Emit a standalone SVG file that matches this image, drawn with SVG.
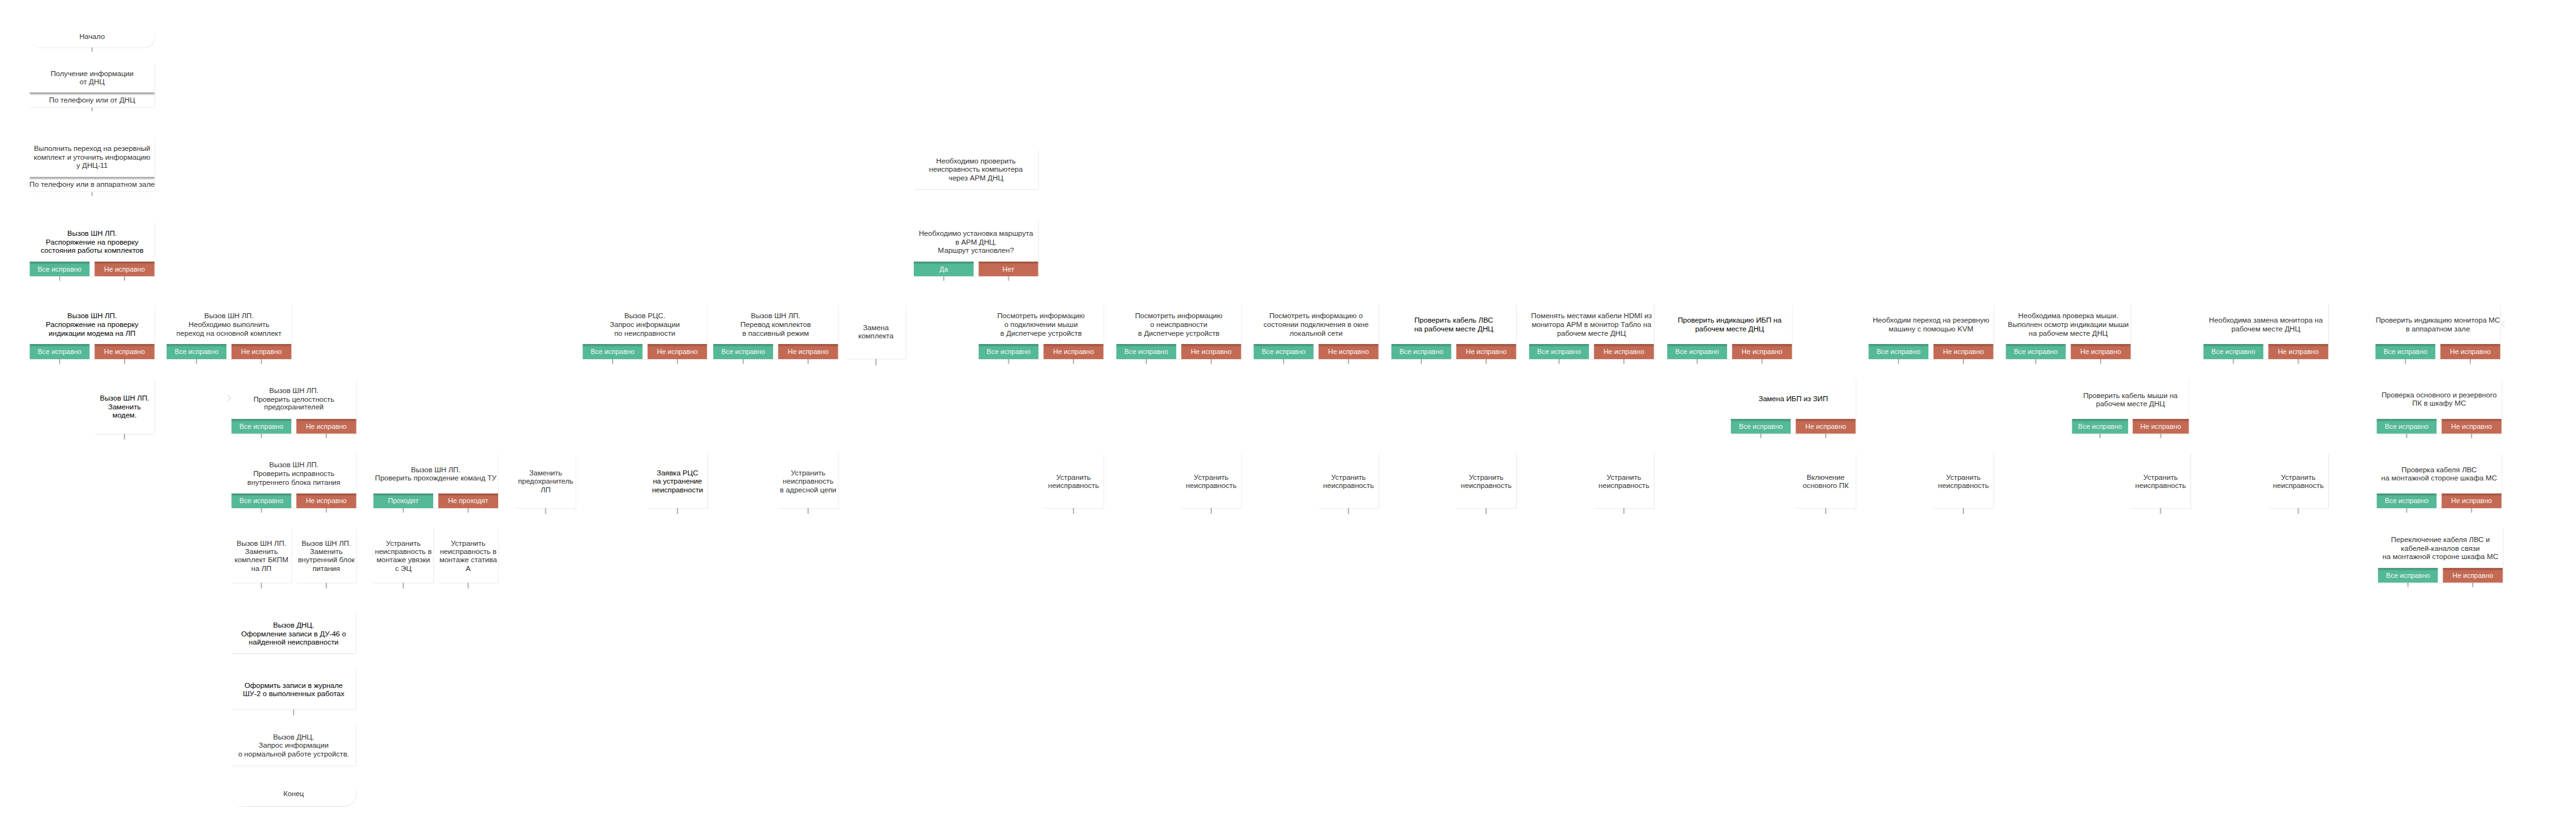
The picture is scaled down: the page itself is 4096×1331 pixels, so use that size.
<svg xmlns="http://www.w3.org/2000/svg" width="4096" height="1331" viewBox="0 0 4096 1331">
<defs>
<style>
.card{fill:#fff;filter:url(#sh)}
.t{font-family:"Liberation Sans",Arial,sans-serif;font-size:17.5px;fill:#333;text-anchor:middle;dominant-baseline:central}
.d{fill:#000}
.bt{font-family:"Liberation Sans",Arial,sans-serif;font-size:16.5px;fill:#f6f6f6;text-anchor:middle;dominant-baseline:central}
.ok{fill:url(#gOk)}
.bad{fill:url(#gBad)}
.bar{fill:url(#gBar)}
.stub{stroke:#b3b3b3;stroke-width:3;fill:none}
.arr{stroke:#e2e2e2;stroke-width:2;fill:none}
</style>
<filter id="sh" x="-5%" y="-5%" width="112%" height="115%">
<feDropShadow dx="1" dy="1.2" stdDeviation="0.8" flood-color="#000" flood-opacity="0.14"/>
</filter>
<linearGradient id="gOk" x1="0" y1="0" x2="0" y2="1">
<stop offset="0" stop-color="#3d8a6e"/><stop offset="0.2" stop-color="#54b996"/><stop offset="1" stop-color="#54b996"/>
</linearGradient>
<linearGradient id="gBad" x1="0" y1="0" x2="0" y2="1">
<stop offset="0" stop-color="#944d3c"/><stop offset="0.2" stop-color="#c46a54"/><stop offset="1" stop-color="#c46a54"/>
</linearGradient>
<linearGradient id="gBar" x1="0" y1="0" x2="0" y2="1">
<stop offset="0" stop-color="#8c8c8c"/><stop offset="1" stop-color="#ffffff"/>
</linearGradient>
</defs>
<rect width="4096" height="1331" fill="#fff"/>
<g transform="scale(0.66558)">

<g id="connectors">
<path class="stub" d="M220 113v11M220 257v9M220 459v9M142.5 660v11M297.5 660v11M142.5 858v11M297.5 858v11M469.5 858v11M624.5 858v11M297.5 1036v14M624.5 1036v11M779.5 1036v11M624.5 1214v11M779.5 1214v11M963.5 1214v11M1118.5 1214v11M624.5 1392v14M779.5 1392v14M963.5 1392v14M1118.5 1392v14M701.5 1695v14M1303.5 1214v14M1618.5 1214v14M1930.5 1214v14M1463.5 858v11M1618.5 858v11M1775.5 858v11M1930.5 858v11M2092.5 857v16M2254.5 660v11M2409.5 660v11M2409.5 858v11M2564.5 858v11M2738.5 858v11M2893.5 858v11M3066.5 858v11M3221.5 858v11M3395.5 858v11M3550.5 858v11M3724.5 858v11M3879.5 858v11M4054.5 858v11M4209.5 858v11M4535.5 858v11M4690.5 858v11M4863.5 858v11M5018.5 858v11M5335.5 858v11M5490.5 858v11M5746.5 858v11M5901.5 858v11M4206.5 1036v11M4361.5 1036v11M5017 1036v11M5162 1036v11M5749.5 1036v11M5904.5 1036v11M5749.5 1214v11M5904.5 1214v11M5752.5 1392v11M5907.5 1392v11M2564.5 1214v14M2893.5 1214v14M3221.5 1214v14M3550.5 1214v14M3879.5 1214v14M4361.5 1214v14M4690.5 1214v14M5161.5 1214v14M5490.5 1214v14"/>
<path class="arr" d="M543 944l8 7-8 7M5984 768l-8 7 8 7"/>
</g>

<g id="start"><rect class="card" x="71" y="62" width="298" height="51" rx="25"/><text class="t" x="220" y="87">Начало</text></g>

<g id="n_info"><rect class="card" x="71" y="149" width="298" height="107"/><text class="t" x="220" y="175">Получение информации</text><text class="t" x="220" y="195">от ДНЦ</text><rect class="bar" x="71" y="221" width="298" height="7"/><text class="t" x="220" y="238">По телефону или от ДНЦ</text></g>

<g id="n_switch"><rect class="card" x="71" y="328" width="298" height="129"/><text class="t" x="220" y="354">Выполнить переход на резервный</text><text class="t" x="220" y="375">комплект и уточнить информацию</text><text class="t" x="220" y="395">у ДНЦ-11</text><rect class="bar" x="71" y="423" width="298" height="7"/><text class="t" x="220" y="440">По телефону или в аппаратном зале</text></g>

<g id="n_check_sets"><rect class="card" x="71" y="530" width="298" height="130"/><text class="t d" x="220" y="557">Вызов ШН ЛП.</text><text class="t d" x="220" y="577">Распоряжение на проверку</text><text class="t d" x="220" y="597">состояния работы комплектов</text><rect class="ok" x="71" y="625" width="143" height="35"/><rect class="bad" x="226" y="625" width="143" height="35"/><text class="bt" x="142.5" y="642.5">Все исправно</text><text class="bt" x="297.5" y="642.5">Не исправно</text></g>

<g id="n_modem"><rect class="card" x="71" y="727" width="298" height="131"/><text class="t d" x="220" y="753">Вызов ШН ЛП.</text><text class="t d" x="220" y="774">Распоряжение на проверку</text><text class="t d" x="220" y="795">индикации модема на ЛП</text><rect class="ok" x="71" y="822" width="143" height="36"/><rect class="bad" x="226" y="822" width="143" height="36"/><text class="bt" x="142.5" y="840">Все исправно</text><text class="bt" x="297.5" y="840">Не исправно</text></g>

<g id="n_main_set"><rect class="card" x="398" y="727" width="298" height="131"/><text class="t" x="547" y="753">Вызов ШН ЛП.</text><text class="t" x="547" y="774">Необходимо выполнить</text><text class="t" x="547" y="795">переход на основной комплект</text><rect class="ok" x="398" y="822" width="143" height="36"/><rect class="bad" x="553" y="822" width="143" height="36"/><text class="bt" x="469.5" y="840">Все исправно</text><text class="bt" x="624.5" y="840">Не исправно</text></g>

<g id="n_replace_modem"><rect class="card" x="226" y="905" width="143" height="131"/><text class="t d" x="297.5" y="950">Вызов ШН ЛП.</text><text class="t d" x="297.5" y="971">Заменить</text><text class="t d" x="297.5" y="991">модем.</text></g>

<g id="n_fuses"><rect class="card" x="553" y="905" width="298" height="131"/><text class="t" x="702" y="932">Вызов ШН ЛП.</text><text class="t" x="702" y="953">Проверить целостность</text><text class="t" x="702" y="972">предохранителей</text><rect class="ok" x="553" y="1001" width="143" height="35"/><rect class="bad" x="708" y="1001" width="143" height="35"/><text class="bt" x="624.5" y="1018.5">Все исправно</text><text class="bt" x="779.5" y="1018.5">Не исправно</text></g>

<g id="n_psu"><rect class="card" x="553" y="1083" width="298" height="131"/><text class="t" x="702" y="1110">Вызов ШН ЛП.</text><text class="t" x="702" y="1131">Проверить исправность</text><text class="t" x="702" y="1151">внутреннего блока питания</text><rect class="ok" x="553" y="1179" width="143" height="35"/><rect class="bad" x="708" y="1179" width="143" height="35"/><text class="bt" x="624.5" y="1196.5">Все исправно</text><text class="bt" x="779.5" y="1196.5">Не исправно</text></g>

<g id="n_tu"><rect class="card" x="892" y="1083" width="298" height="131"/><text class="t" x="1041" y="1121">Вызов ШН ЛП.</text><text class="t" x="1041" y="1141">Проверить прохождение команд ТУ</text><rect class="ok" x="892" y="1179" width="143" height="35"/><rect class="bad" x="1047" y="1179" width="143" height="35"/><text class="bt" x="963.5" y="1196.5">Проходят</text><text class="bt" x="1118.5" y="1196.5">Не проходят</text></g>

<g id="n_bkpm"><rect class="card" x="553" y="1260" width="143" height="132"/><text class="t" x="624.5" y="1297">Вызов ШН ЛП.</text><text class="t" x="624.5" y="1317">Заменить</text><text class="t" x="624.5" y="1337">комплект БКПМ</text><text class="t" x="624.5" y="1357">на ЛП</text></g>

<g id="n_int_psu"><rect class="card" x="708" y="1260" width="143" height="132"/><text class="t" x="779.5" y="1297">Вызов ШН ЛП.</text><text class="t" x="779.5" y="1317">Заменить</text><text class="t" x="779.5" y="1337">внутренний блок</text><text class="t" x="779.5" y="1357">питания</text></g>

<g id="n_ec"><rect class="card" x="892" y="1260" width="143" height="132"/><text class="t" x="963.5" y="1297">Устранить</text><text class="t" x="963.5" y="1317">неисправность в</text><text class="t" x="963.5" y="1337">монтаже увязки</text><text class="t" x="963.5" y="1357">с ЭЦ</text></g>

<g id="n_stativ"><rect class="card" x="1047" y="1260" width="143" height="132"/><text class="t" x="1118.5" y="1297">Устранить</text><text class="t" x="1118.5" y="1317">неисправность в</text><text class="t" x="1118.5" y="1337">монтаже статива</text><text class="t" x="1118.5" y="1357">А</text></g>

<g id="n_du46"><rect class="card" x="553" y="1466" width="297" height="95"/><text class="t d" x="701.5" y="1493">Вызов ДНЦ.</text><text class="t d" x="701.5" y="1513">Оформление записи в ДУ-46 о</text><text class="t d" x="701.5" y="1533">найденной неисправности</text></g>

<g id="n_shu2"><rect class="card" x="553" y="1599" width="297" height="95"/><text class="t d" x="701.5" y="1637">Оформить записи в журнале</text><text class="t d" x="701.5" y="1657">ШУ-2 о выполненных работах</text></g>

<g id="n_request"><rect class="card" x="553" y="1731" width="297" height="98"/><text class="t" x="701.5" y="1760">Вызов ДНЦ.</text><text class="t" x="701.5" y="1780">Запрос информации</text><text class="t" x="701.5" y="1800">о нормальной работе устройств.</text></g>

<g id="end"><rect class="card" x="553" y="1867" width="297" height="59" rx="29"/><text class="t" x="701.5" y="1896">Конец</text></g>

<g id="n_rcs"><rect class="card" x="1392" y="727" width="297" height="131"/><text class="t" x="1540.5" y="754">Вызов РЦС.</text><text class="t" x="1540.5" y="775">Запрос информации</text><text class="t" x="1540.5" y="795">по неисправности</text><rect class="ok" x="1392" y="822" width="143" height="36"/><rect class="bad" x="1547" y="822" width="142" height="36"/><text class="bt" x="1463.5" y="840">Все исправно</text><text class="bt" x="1618" y="840">Не исправно</text></g>

<g id="n_passive"><rect class="card" x="1704" y="727" width="298" height="131"/><text class="t" x="1853" y="754">Вызов ШН ЛП.</text><text class="t" x="1853" y="775">Перевод комплектов</text><text class="t" x="1853" y="795">в пассивный режим</text><rect class="ok" x="1704" y="822" width="143" height="36"/><rect class="bad" x="1859" y="822" width="143" height="36"/><text class="bt" x="1775.5" y="840">Все исправно</text><text class="bt" x="1930.5" y="840">Не исправно</text></g>

<g id="n_replace_set"><rect class="card" x="2021" y="727" width="143" height="130"/><text class="t" x="2092.5" y="782">Замена</text><text class="t" x="2092.5" y="802">комплекта</text></g>

<g id="n_fuse_lp"><rect class="card" x="1232" y="1083" width="143" height="131"/><text class="t" x="1303.5" y="1129">Заменить</text><text class="t" x="1303.5" y="1149">предохранитель</text><text class="t" x="1303.5" y="1169">ЛП</text></g>

<g id="n_rcs_req"><rect class="card" x="1547" y="1083" width="143" height="131"/><text class="t d" x="1618.5" y="1129">Заявка РЦС</text><text class="t d" x="1618.5" y="1149">на устранение</text><text class="t d" x="1618.5" y="1169">неисправности</text></g>

<g id="n_addr"><rect class="card" x="1859" y="1083" width="143" height="131"/><text class="t" x="1930.5" y="1129">Устранить</text><text class="t" x="1930.5" y="1149">неисправность</text><text class="t" x="1930.5" y="1169">в адресной цепи</text></g>

<g id="n_arm"><rect class="card" x="2183" y="358" width="297" height="94"/><text class="t" x="2331.5" y="384">Необходимо проверить</text><text class="t" x="2331.5" y="404">неисправность компьютера</text><text class="t" x="2331.5" y="424">через АРМ ДНЦ</text></g>

<g id="n_route"><rect class="card" x="2183" y="529" width="297" height="131"/><text class="t" x="2331.5" y="557">Необходимо установка маршрута</text><text class="t" x="2331.5" y="577">в АРМ ДНЦ.</text><text class="t" x="2331.5" y="597">Маршрут установлен?</text><rect class="ok" x="2183" y="625" width="143" height="35"/><rect class="bad" x="2338" y="625" width="142" height="35"/><text class="bt" x="2254.5" y="642.5">Да</text><text class="bt" x="2409" y="642.5">Нет</text></g>

<g id="n_mouse_dm"><rect class="card" x="2338" y="727" width="298" height="131"/><text class="t" x="2487" y="754">Посмотреть информацию</text><text class="t" x="2487" y="775">о подключении мыши</text><text class="t" x="2487" y="795">в Диспетчере устройств</text><rect class="ok" x="2338" y="822" width="143" height="36"/><rect class="bad" x="2493" y="822" width="143" height="36"/><text class="bt" x="2409.5" y="840">Все исправно</text><text class="bt" x="2564.5" y="840">Не исправно</text></g>

<g id="n_fault_dm"><rect class="card" x="2667" y="727" width="298" height="131"/><text class="t" x="2816" y="754">Посмотреть информацию</text><text class="t" x="2816" y="775">о неисправности</text><text class="t" x="2816" y="795">в Диспетчере устройств</text><rect class="ok" x="2667" y="822" width="143" height="36"/><rect class="bad" x="2822" y="822" width="143" height="36"/><text class="bt" x="2738.5" y="840">Все исправно</text><text class="bt" x="2893.5" y="840">Не исправно</text></g>

<g id="n_lan"><rect class="card" x="2995" y="727" width="298" height="131"/><text class="t" x="3144" y="754">Посмотреть информацию о</text><text class="t" x="3144" y="775">состоянии подключения в окне</text><text class="t" x="3144" y="795">локальной сети</text><rect class="ok" x="2995" y="822" width="143" height="36"/><rect class="bad" x="3150" y="822" width="143" height="36"/><text class="bt" x="3066.5" y="840">Все исправно</text><text class="bt" x="3221.5" y="840">Не исправно</text></g>

<g id="n_lvs_cable"><rect class="card" x="3324" y="727" width="298" height="131"/><text class="t d" x="3473" y="764">Проверить кабель ЛВС</text><text class="t d" x="3473" y="785">на рабочем месте ДНЦ</text><rect class="ok" x="3324" y="822" width="143" height="36"/><rect class="bad" x="3479" y="822" width="143" height="36"/><text class="bt" x="3395.5" y="840">Все исправно</text><text class="bt" x="3550.5" y="840">Не исправно</text></g>

<g id="n_hdmi"><rect class="card" x="3653" y="727" width="298" height="131"/><text class="t" x="3802" y="754">Поменять местами кабели HDMI из</text><text class="t" x="3802" y="775">монитора АРМ в монитор Табло на</text><text class="t" x="3802" y="795">рабочем месте ДНЦ</text><rect class="ok" x="3653" y="822" width="143" height="36"/><rect class="bad" x="3808" y="822" width="143" height="36"/><text class="bt" x="3724.5" y="840">Все исправно</text><text class="bt" x="3879.5" y="840">Не исправно</text></g>

<g id="n_ups"><rect class="card" x="3983" y="727" width="298" height="131"/><text class="t d" x="4132" y="764">Проверить индикацию ИБП на</text><text class="t d" x="4132" y="785">рабочем месте ДНЦ</text><rect class="ok" x="3983" y="822" width="143" height="36"/><rect class="bad" x="4138" y="822" width="143" height="36"/><text class="bt" x="4054.5" y="840">Все исправно</text><text class="bt" x="4209.5" y="840">Не исправно</text></g>

<g id="n_ups_replace"><rect class="card" x="4135" y="905" width="298" height="131"/><text class="t d" x="4284" y="952">Замена ИБП из ЗИП</text><rect class="ok" x="4135" y="1001" width="143" height="35"/><rect class="bad" x="4290" y="1001" width="143" height="35"/><text class="bt" x="4206.5" y="1018.5">Все исправно</text><text class="bt" x="4361.5" y="1018.5">Не исправно</text></g>

<g id="n_kvm"><rect class="card" x="4464" y="727" width="298" height="131"/><text class="t" x="4613" y="764">Необходим переход на резервную</text><text class="t" x="4613" y="785">машину с помощью KVM</text><rect class="ok" x="4464" y="822" width="143" height="36"/><rect class="bad" x="4619" y="822" width="143" height="36"/><text class="bt" x="4535.5" y="840">Все исправно</text><text class="bt" x="4690.5" y="840">Не исправно</text></g>

<g id="n_mouse"><rect class="card" x="4792" y="727" width="298" height="131"/><text class="t" x="4941" y="754">Необходима проверка мыши.</text><text class="t" x="4941" y="775">Выполнен осмотр индикации мыши</text><text class="t" x="4941" y="795">на рабочем месте ДНЦ</text><rect class="ok" x="4792" y="822" width="143" height="36"/><rect class="bad" x="4947" y="822" width="143" height="36"/><text class="bt" x="4863.5" y="840">Все исправно</text><text class="bt" x="5018.5" y="840">Не исправно</text></g>

<g id="n_mouse_cable"><rect class="card" x="4950" y="905" width="279" height="131"/><text class="t" x="5089.5" y="944">Проверить кабель мыши на</text><text class="t" x="5089.5" y="964">рабочем месте ДНЦ</text><rect class="ok" x="4950" y="1001" width="134" height="35"/><rect class="bad" x="5095" y="1001" width="134" height="35"/><text class="bt" x="5017" y="1018.5">Все исправно</text><text class="bt" x="5162" y="1018.5">Не исправно</text></g>

<g id="n_monitor"><rect class="card" x="5264" y="727" width="298" height="131"/><text class="t" x="5413" y="764">Необходима замена монитора на</text><text class="t" x="5413" y="785">рабочем месте ДНЦ</text><rect class="ok" x="5264" y="822" width="143" height="36"/><rect class="bad" x="5419" y="822" width="143" height="36"/><text class="bt" x="5335.5" y="840">Все исправно</text><text class="bt" x="5490.5" y="840">Не исправно</text></g>

<g id="n_ms_monitor"><rect class="card" x="5675" y="727" width="298" height="131"/><text class="t" x="5824" y="764">Проверить индикацию монитора МС</text><text class="t" x="5824" y="785">в аппаратном зале</text><rect class="ok" x="5675" y="822" width="143" height="36"/><rect class="bad" x="5830" y="822" width="143" height="36"/><text class="bt" x="5746.5" y="840">Все исправно</text><text class="bt" x="5901.5" y="840">Не исправно</text></g>

<g id="n_ms_pc"><rect class="card" x="5678" y="905" width="298" height="131"/><text class="t" x="5827" y="943">Проверка основного и резервного</text><text class="t" x="5827" y="963">ПК в шкафу МС</text><rect class="ok" x="5678" y="1001" width="143" height="35"/><rect class="bad" x="5833" y="1001" width="143" height="35"/><text class="bt" x="5749.5" y="1018.5">Все исправно</text><text class="bt" x="5904.5" y="1018.5">Не исправно</text></g>

<g id="n_ms_lvs"><rect class="card" x="5678" y="1083" width="298" height="131"/><text class="t" x="5827" y="1121">Проверка кабеля ЛВС</text><text class="t" x="5827" y="1141">на монтажной стороне шкафа МС</text><rect class="ok" x="5678" y="1179" width="143" height="35"/><rect class="bad" x="5833" y="1179" width="143" height="35"/><text class="bt" x="5749.5" y="1196.5">Все исправно</text><text class="bt" x="5904.5" y="1196.5">Не исправно</text></g>

<g id="n_ms_switch"><rect class="card" x="5681" y="1260" width="298" height="132"/><text class="t" x="5830" y="1289">Переключение кабеля ЛВС и</text><text class="t" x="5830" y="1309">кабелей-каналов связи</text><text class="t" x="5830" y="1329">на монтажной стороне шкафа МС</text><rect class="ok" x="5681" y="1357" width="143" height="35"/><rect class="bad" x="5836" y="1357" width="143" height="35"/><text class="bt" x="5752.5" y="1374.5">Все исправно</text><text class="bt" x="5907.5" y="1374.5">Не исправно</text></g>

<g id="n_fix1"><rect class="card" x="2493" y="1083" width="143" height="131"/><text class="t" x="2564.5" y="1139">Устранить</text><text class="t" x="2564.5" y="1159">неисправность</text></g>
<g id="n_fix2"><rect class="card" x="2822" y="1083" width="143" height="131"/><text class="t" x="2893.5" y="1139">Устранить</text><text class="t" x="2893.5" y="1159">неисправность</text></g>
<g id="n_fix3"><rect class="card" x="3150" y="1083" width="143" height="131"/><text class="t" x="3221.5" y="1139">Устранить</text><text class="t" x="3221.5" y="1159">неисправность</text></g>
<g id="n_fix4"><rect class="card" x="3479" y="1083" width="143" height="131"/><text class="t" x="3550.5" y="1139">Устранить</text><text class="t" x="3550.5" y="1159">неисправность</text></g>
<g id="n_fix5"><rect class="card" x="3808" y="1083" width="143" height="131"/><text class="t" x="3879.5" y="1139">Устранить</text><text class="t" x="3879.5" y="1159">неисправность</text></g>
<g id="n_main_pc"><rect class="card" x="4290" y="1083" width="143" height="131"/><text class="t" x="4361.5" y="1139">Включение</text><text class="t" x="4361.5" y="1159">основного ПК</text></g>
<g id="n_fix6"><rect class="card" x="4619" y="1083" width="143" height="131"/><text class="t" x="4690.5" y="1139">Устранить</text><text class="t" x="4690.5" y="1159">неисправность</text></g>
<g id="n_fix7"><rect class="card" x="5090" y="1083" width="143" height="131"/><text class="t" x="5161.5" y="1139">Устранить</text><text class="t" x="5161.5" y="1159">неисправность</text></g>
<g id="n_fix8"><rect class="card" x="5419" y="1083" width="143" height="131"/><text class="t" x="5490.5" y="1139">Устранить</text><text class="t" x="5490.5" y="1159">неисправность</text></g>

</g>
</svg>
